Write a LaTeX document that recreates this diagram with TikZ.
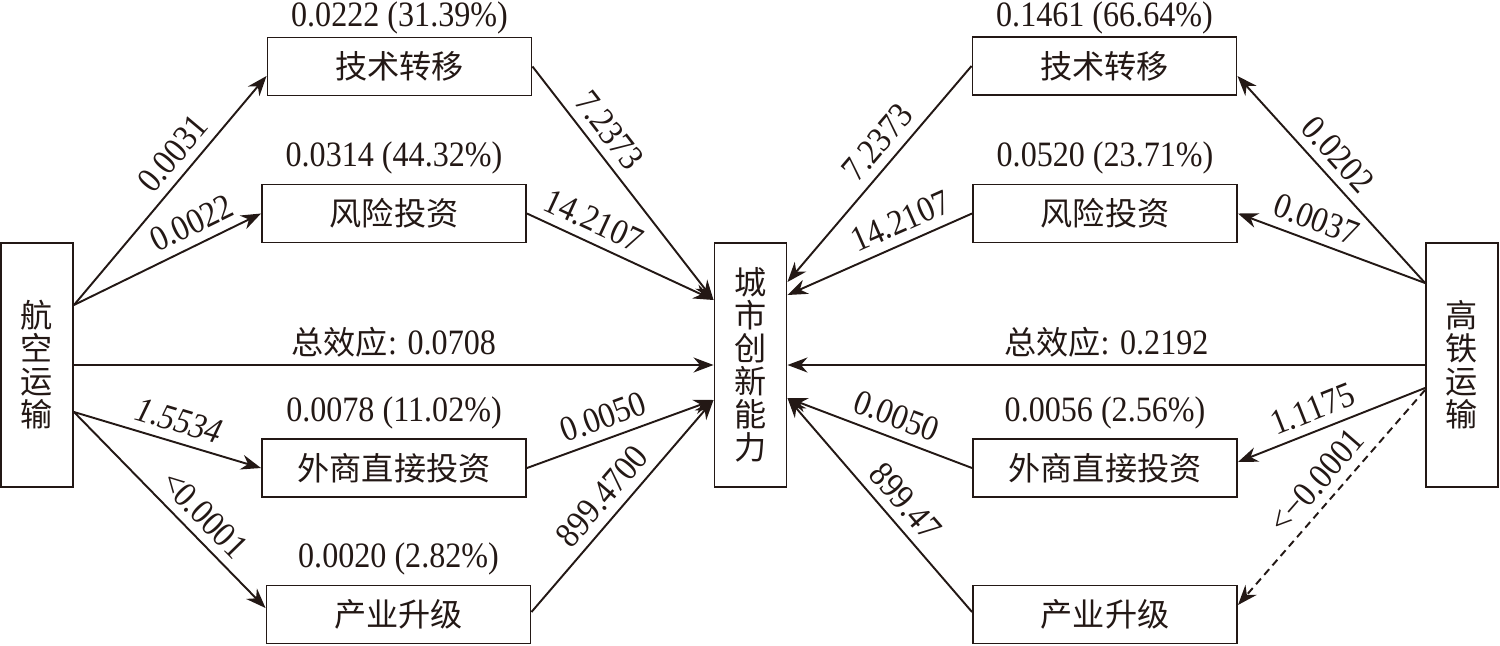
\documentclass[tikz,border=0pt]{standalone}
\usepackage{fontspec}
\setmainfont{Liberation Serif}[FakeStretch=0.9]
\newfontfamily\cjk{Noto Sans CJK SC}
\usepackage{tikz}
\usetikzlibrary{positioning}
\usetikzlibrary{arrows.meta}
\definecolor{ink}{RGB}{35,24,21}
\newcommand{\CJKT}[1]
{{\cjk\fontsize{18.3}{20}\selectfont #1}}
\tikzset{
  box/.style={
    draw=ink,line width=1.1pt,minimum width=5.28cm,minimum height=1.16cm,
    inner sep=0pt,font=\cjk\fontsize{18.3}{20}\selectfont,
  },
  vbox/.style={
    draw=ink,line width=1.1pt,minimum width=1.44cm,minimum height=4.88cm,
    inner sep=0pt,align=center,font=\cjk\fontsize{18.3}{18.8}\selectfont,
  },
  arr/.style={
    draw=ink,line width=1.1pt,-{Stealth[length=0.4cm,width=0.3cm,inset=0.13cm]},
  },
  num/.style={font=\fontsize{20.3}{22}\selectfont,inner sep=1pt},
  coef/.style={num,sloped,above=4pt},
}
\begin{document}
\begin{tikzpicture}[color=ink,text=ink]
    \useasboundingbox (0,0) rectangle (30,-12.9);
    % boxes
    \node[vbox] (air) at (0.74,-7.3) {航\\空\\运\\输};
    \node[vbox] (city) at (15.01,-7.3) {城\\市\\创\\新\\能\\力};
    \node[vbox] (hsr) at (29.24,-7.3) {高\\铁\\运\\输};

    \node[box] (lA) at (7.99,-1.33) {技术转移};
    \node[box] (lB) at (7.88,-4.27) {风险投资};
    \node[box] (lC) at (7.88,-9.36) {外商直接投资};
    \node[box] (lD) at (7.97,-12.29) {产业升级};
    \node[box] (rA) at (22.09,-1.32) {技术转移};
    \node[box] (rB) at (22.1,-4.27) {风险投资};
    \node[box] (rC) at (22.1,-9.36) {外商直接投资};
    \node[box] (rD) at (22.1,-12.29) {产业升级};

    % indirect effects
    \node[num,above=0cm of lA] (eA) {0.0222 (31.39\%)};
    \node[num,above=0.14cm of lB] (eB) {0.0314 (44.32\%)};
    \node[num,above=0.14cm of lC] (eC) {0.0078 (11.02\%)};
    \node[num,above=0.14cm of lD] (eD) {0.0020 (2.82\%)};
    \node[num,above=0cm of rA] (fA) {0.1461 (66.64\%)};
    \node[num,above=0.14cm of rB] (fB) {0.0520 (23.71\%)};
    \node[num,above=0.14cm of rC] (fC) {0.0056 (2.56\%)};

    % left side
    \draw[arr] ([yshift=1.2cm]air.east) -- node[coef,pos=0.6] (aA) {0.0031} ([yshift=-0.19cm]lA.west);
    \draw[arr] ([yshift=1.2cm]air.east) -- node[coef,pos=0.68] (aB) {0.0022} (lB.west);
    \draw[arr] (air.east) -- node[num,above=3pt] (tL) {\CJKT{总效应}: 0.0708} (city.west);
    \draw[arr] ([yshift=-0.94cm]air.east) -- node[coef,pos=0.53] (aC) {\itshape 1.5534} (lC.west);
    \draw[arr] ([yshift=-0.94cm]air.east) -- node[coef,pos=0.6] (aD) {<0.0001} ([yshift=0.13cm]lD.west);

    \draw[arr] (lA.east) -- node[coef,pos=0.33] (bA) {7.2373} ([yshift=1.3cm]city.west);
    \draw[arr] (lB.east) -- node[coef,pos=0.31] (bB) {14.2107} ([yshift=1.3cm]city.west);
    \draw[arr] (lC.east) -- node[coef,pos=0.45] (bC) {0.0050} ([yshift=-0.7cm]city.west);
    \draw[arr] ([yshift=0.05cm]lD.east) -- node[coef,pos=0.48] (bD) {899.4700} ([yshift=-0.7cm]city.west);

    % right side
    \draw[arr] ([yshift=1.64cm]hsr.west) -- node[coef,pos=0.55] (cA) {0.0202} ([yshift=-0.2cm]rA.east);
    \draw[arr] ([yshift=1.64cm]hsr.west) -- node[coef,pos=0.62] (cB) {0.0037} (rB.east);
    \draw[arr] (hsr.west) -- node[num,above=3pt] (tR) {\CJKT{总效应}: 0.2192} (city.east);
    \draw[arr] ([yshift=-0.46cm]hsr.west) -- node[coef,pos=0.56] (cC) {1.1175} ([yshift=0.12cm]rC.east);
    \draw[arr,dash pattern=on 0.15cm off 0.1cm] ([yshift=-0.5cm]hsr.west) -- node[coef,pos=0.49] (cD) {<−0.0001} ([yshift=0.19cm]rD.east);

    \draw[arr] (rA.west) -- node[coef,pos=0.42] (dA) {7.2373} ([yshift=1.66cm]city.east);
    \draw[arr] (rB.west) -- node[coef,pos=0.34] (dB) {14.2107} ([yshift=1.4cm]city.east);
    \draw[arr] (rC.west) -- node[coef,pos=0.45] (dC) {0.0050} ([yshift=-0.66cm]city.east);
    \draw[arr] ([yshift=0.05cm]rD.west) -- node[coef,pos=0.45] (dD) {899.47} ([yshift=-0.66cm]city.east);
\end{tikzpicture}
\end{document}
